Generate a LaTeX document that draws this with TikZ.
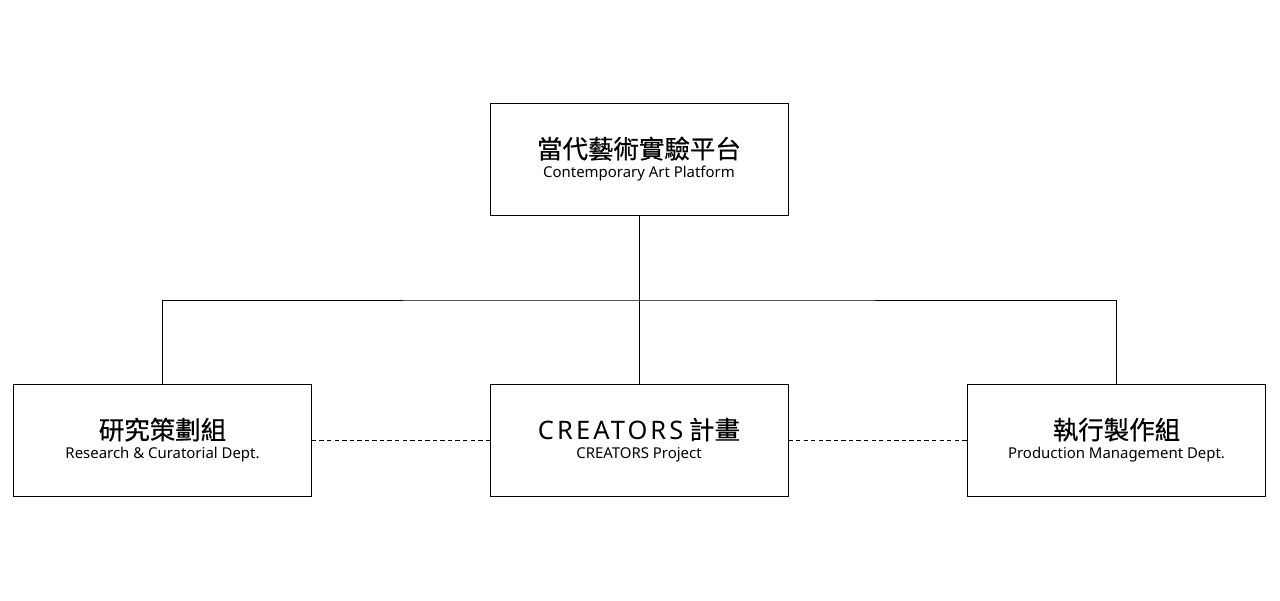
\documentclass[tikz,border=0pt]{standalone}
\usepackage{fontspec}
\setmainfont{Noto Sans}
\newfontfamily\cjk[FakeBold=0.6]{Noto Sans CJK TC}
\usetikzlibrary{positioning}
\begin{document}
\begin{tikzpicture}[
    unit/.style={draw,line width=0.45pt,minimum width=5.96cm,minimum height=2.24cm,align=center,inner sep=0pt},
    link/.style={line width=0.45pt},
    side/.style={line width=0.45pt,dash pattern=on 2.5pt off 1.8pt}
  ]
  \useasboundingbox (0,0) rectangle (25.6,-12);
  \newcommand{\zh}[1]{{\cjk\fontsize{14.5}{17}\selectfont #1}}
  \newcommand{\en}[1]{{\fontsize{8.5}{10}\selectfont #1}}

  \node[unit] (top) at (12.78,-3.18) {\raisebox{-6pt}{\zh{當代藝術實驗平台}}\\[1pt]\raisebox{-4pt}{\en{Contemporary Art Platform}}};
  \node[unit] (mid) at (12.78,-8.8) {\raisebox{-6pt}{\zh{{\fontspec{Noto Sans}\addfontfeature{LetterSpace=12}CREATORS} 計畫}}\\[1pt]\raisebox{-4pt}{\en{CREATORS Project}}};
  \node[unit] (left) at (3.25,-8.8) {\raisebox{-6pt}{\zh{研究策劃組}}\\[1pt]\raisebox{-4pt}{\en{Research \& Curatorial Dept.}}};
  \node[unit] (right) at (22.33,-8.8) {\raisebox{-6pt}{\zh{執行製作組}}\\[1pt]\raisebox{-4pt}{\en{Production Management Dept.}}};

  \coordinate (bus) at (12.78,-6);
  \draw[link] (top) -- (mid);
  \draw[link] (left.north) |- (bus) -| (right.north);
  \draw[side] (left) -- (mid);
  \draw[side] (mid) -- (right);
\end{tikzpicture}
\end{document}
